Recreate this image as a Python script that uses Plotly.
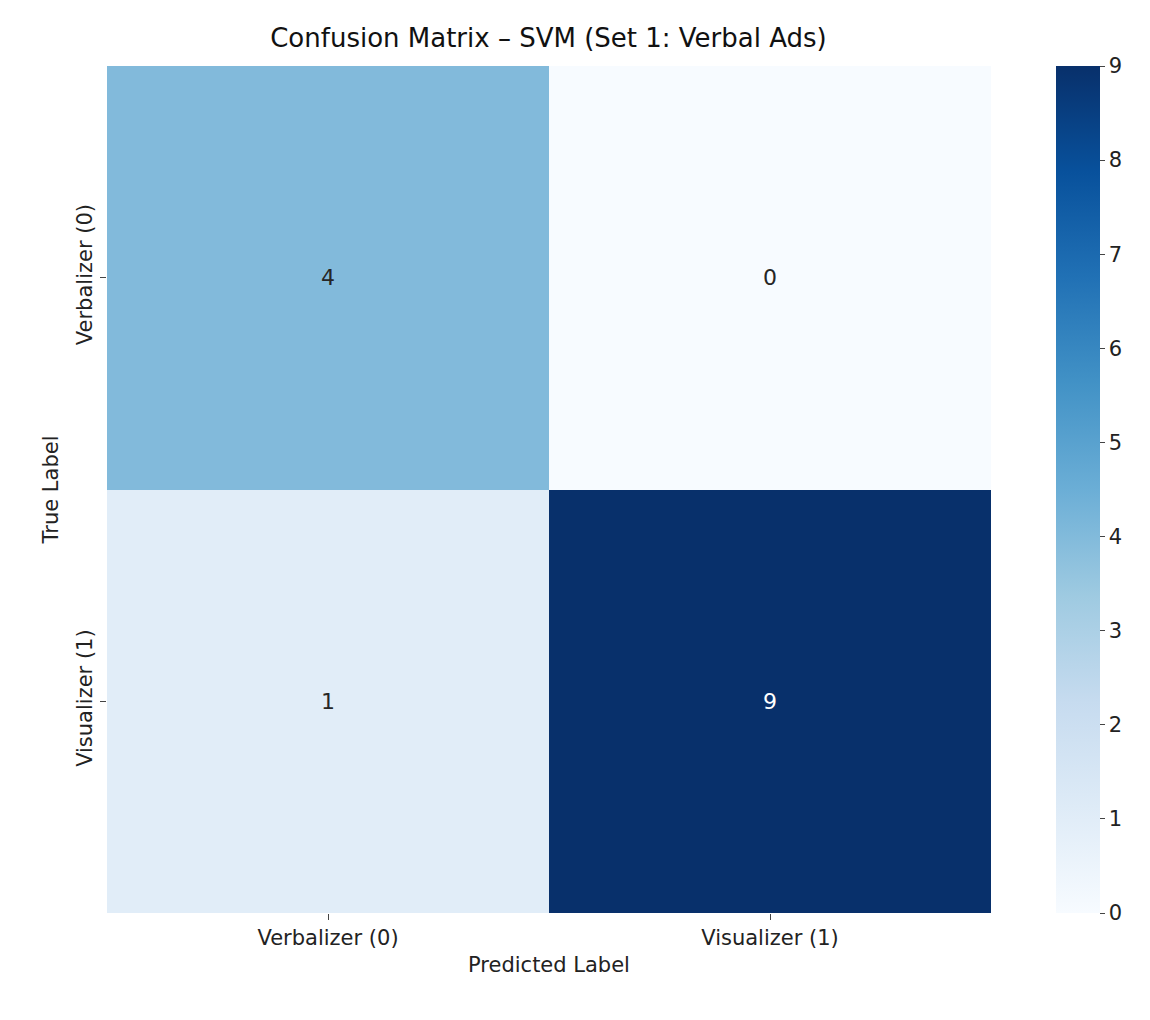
import plotly.graph_objects as go

x_labels = ["Verbalizer (0)", "Visualizer (1)"]
y_labels = ["Verbalizer (0)", "Visualizer (1)"]
values = [[4, 0], [1, 9]]

blues = [[0, "#f7fbff"], [0.125, "#deebf7"], [0.25, "#c6dbef"], [0.375, "#9ecae1"],
         [0.5, "#6baed6"], [0.625, "#4292c6"], [0.75, "#2171b5"], [0.875, "#08519c"], [1, "#08306b"]]

fig = go.Figure(go.Heatmap(
    z=values, x=x_labels, y=y_labels, colorscale=blues, zmin=0, zmax=9,
    xgap=0, ygap=0,
    colorbar=dict(x=1.062, xanchor="left", y=0, yanchor="bottom", len=1, lenmode="fraction",
                  thickness=44, outlinewidth=0, ticks="outside", ticklen=5, ypad=0,
                  tickvals=list(range(10)), tickfont=dict(size=21, color="#222"))
))

vmax = max(max(r) for r in values)
for i, row in enumerate(values):
    for j, v in enumerate(row):
        fig.add_annotation(x=x_labels[j], y=y_labels[i], text=str(v), showarrow=False,
                           font=dict(size=22, color="white" if v > vmax / 2 else "#262626"))

fig.update_layout(
    width=1150, height=1020, paper_bgcolor="white", plot_bgcolor="white",
    margin=dict(l=99, r=167, t=58, b=115),
    font=dict(family="DejaVu Sans", color="#222"),
    title=dict(text="Confusion Matrix – SVM (Set 1: Verbal Ads)", x=0.47, xanchor="center",
               y=0.971, yanchor="middle", font=dict(size=26, color="#111")),
    xaxis=dict(title=dict(text="Predicted Label", font=dict(size=21), standoff=8),
               ticks="outside", ticklen=6, tickfont=dict(size=21), showgrid=False, zeroline=False),
    yaxis=dict(title=dict(text="True Label", font=dict(size=21), standoff=8), autorange="reversed",
               ticks="outside", ticklen=6, tickangle=-90, tickfont=dict(size=21),
               showgrid=False, zeroline=False),
)
fig.write_html("out.html")
